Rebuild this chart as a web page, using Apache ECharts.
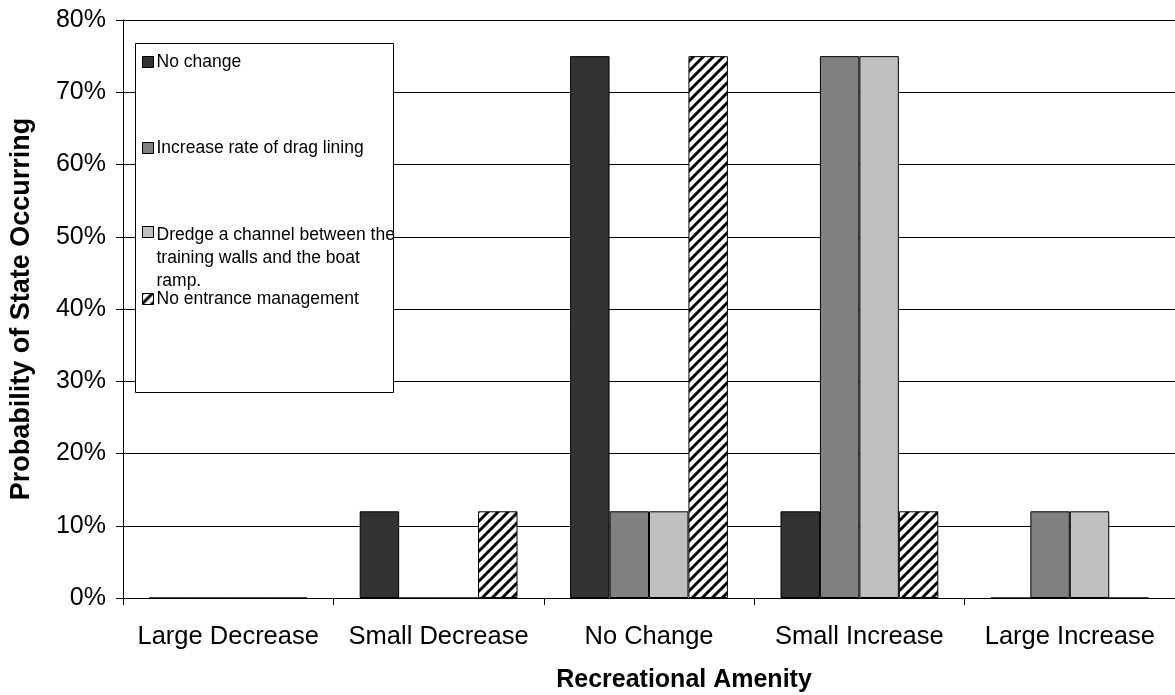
<!DOCTYPE html>
<html>
<head>
<meta charset="utf-8">
<script src="https://cdn.jsdelivr.net/npm/echarts@6/dist/echarts.min.js"></script>
<style>
html,body{margin:0;padding:0;background:#fff;}
#chart{width:1175px;height:695px;}
</style>
</head>
<body>
<div id="chart"></div>
<script>
const categories = ['Large Decrease', 'Small Decrease', 'No Change', 'Small Increase', 'Large Increase'];
const seriesNames = ['No change', 'Increase rate of drag lining', 'Dredge a channel between the training walls and the boat ramp.', 'No entrance management'];
const noChange = [0, 12, 75, 12, 0];
const dragLining = [0, 0, 12, 75, 12];
const dredgeChannel = [0, 0, 12, 75, 12];
const noEntrance = [0, 12, 75, 12, 0];
const yTicks = [0, 10, 20, 30, 40, 50, 60, 70, 80];

function hatch() {
  const s = 10;
  const c = document.createElement('canvas');
  c.width = s; c.height = s;
  const g = c.getContext('2d');
  g.fillStyle = '#fff';
  g.fillRect(0, 0, s, s);
  g.strokeStyle = '#000';
  g.lineWidth = 3;
  g.beginPath();
  g.moveTo(-2, s + 2); g.lineTo(s + 2, -2);
  g.moveTo(-2, 2); g.lineTo(2, -2);
  g.moveTo(s - 2, s + 2); g.lineTo(s + 2, s - 2);
  g.stroke();
  return c;
}
const hatchPattern = { image: hatch(), repeat: 'repeat' };

const FONT = '"Liberation Sans", Arial, sans-serif';
const colors = ['#333333', '#808080', '#c0c0c0', hatchPattern];
const dataSets = [noChange, dragLining, dredgeChannel, noEntrance];

const chart = echarts.init(document.getElementById('chart'), null, { renderer: 'canvas' });

const legendFont = 17.5;
const legendLH = 23;
const legendCenters = [62, 148, 235, 299];
const legends = seriesNames.map((n, i) => {
  const multi = i === 2;
  const h = multi ? legendLH * 3 : legendLH;
  return {
    data: [n],
    left: 142,
    top: legendCenters[i] - legendLH / 2,
    orient: 'vertical',
    itemWidth: 11,
    itemHeight: multi ? h : 11,
    itemGap: 0,
    padding: 0,
    z: 10,
    selectedMode: false,
    icon: multi ? 'path://M0,0L11,0L11,11L0,11Z M0,' + (h - 6) + 'L0.01,' + (h - 6) : 'rect',
    itemStyle: { borderColor: '#000', borderWidth: 1 },
    formatter: function (name) {
      if (name.indexOf('Dredge') === 0) {
        return 'Dredge a channel between the\ntraining walls and the boat\nramp.';
      }
      return name;
    },
    textStyle: { fontFamily: FONT, fontSize: legendFont, color: '#000', lineHeight: legendLH, padding: [0, 0, 0, -2] }
  };
});

chart.setOption({
  animation: false,
  backgroundColor: '#fff',
  color: colors,
  grid: { left: 123, right: 0, top: 20, bottom: 97, containLabel: false, outerBoundsMode: 'none' },
  graphic: [{
    type: 'rect', z: 5,
    shape: { x: 135.5, y: 43.5, width: 258, height: 349 },
    style: { fill: '#fff', stroke: '#000', lineWidth: 1 }
  }],
  legend: legends,
  xAxis: {
    type: 'category',
    data: categories,
    name: 'Recreational Amenity',
    nameLocation: 'middle',
    nameGap: 70,
    nameTextStyle: { fontFamily: FONT, fontSize: 25, fontWeight: 'bold', color: '#000', padding: [0, 0, 0, 70] },
    axisLine: { show: true, lineStyle: { color: '#000', width: 1 } },
    axisTick: { show: true, alignWithLabel: false, length: 7, lineStyle: { color: '#000' } },
    axisLabel: { fontFamily: FONT, fontSize: 25.5, color: '#000', margin: 26, interval: 0 },
    splitLine: { show: false }
  },
  yAxis: {
    type: 'value',
    min: yTicks[0], max: yTicks[yTicks.length - 1], interval: 10,
    name: 'Probability of State Occurring',
    nameLocation: 'middle',
    nameGap: 88,
    nameTextStyle: { fontFamily: FONT, fontSize: 27, fontWeight: 'bold', color: '#000' },
    axisLine: { show: true, lineStyle: { color: '#000', width: 1 } },
    axisTick: { show: true, inside: false, length: 7, lineStyle: { color: '#000' } },
    axisLabel: { fontFamily: FONT, fontSize: 25, color: '#000', margin: 17, formatter: '{value}%' },
    splitLine: { show: true, lineStyle: { color: '#000', width: 1 } }
  },
  series: dataSets.map((d, i) => ({
    name: seriesNames[i],
    type: 'bar',
    data: d,
    barGap: '0%',
    barCategoryGap: '25%',
    itemStyle: { color: colors[i], borderColor: '#000', borderWidth: 1 },
    emphasis: { disabled: true }
  }))
});
</script>
</body>
</html>
